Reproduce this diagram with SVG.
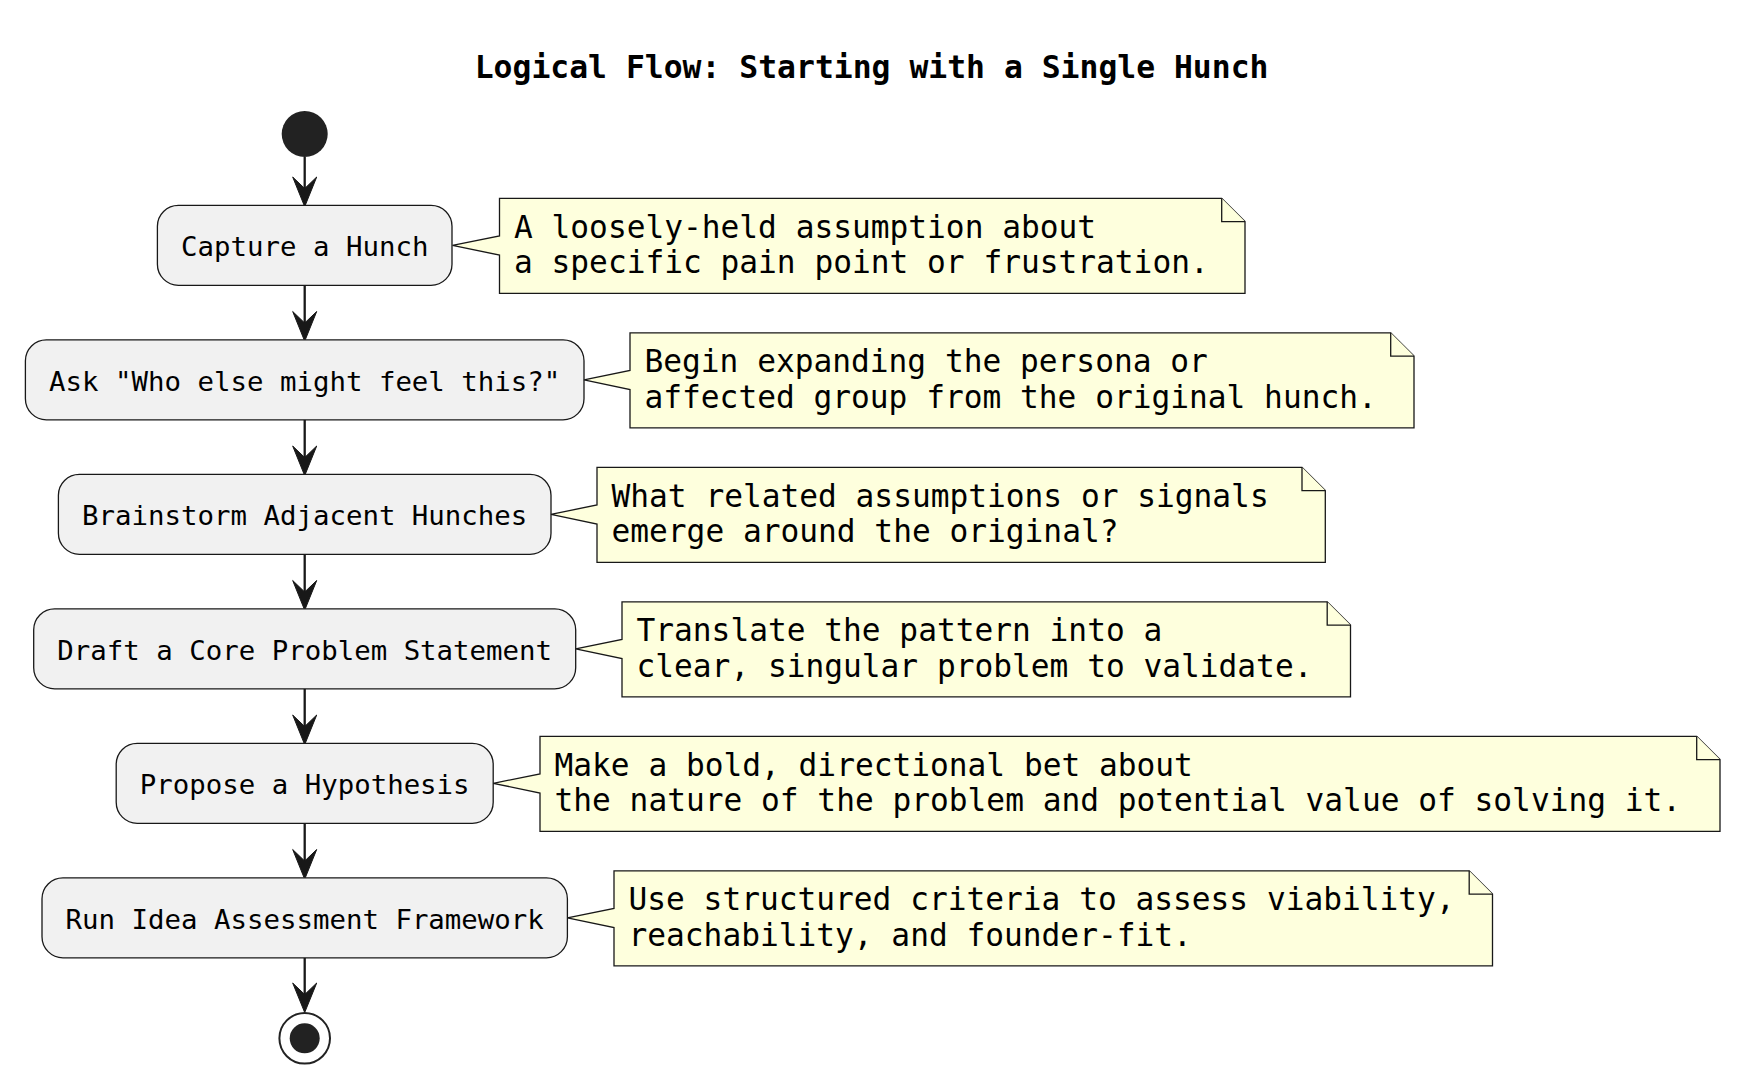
<svg xmlns="http://www.w3.org/2000/svg" width="1745" height="1087" viewBox="0 0 1745 1087">
<style>
  .bg { fill: #FFFFFF; }
  .act rect { fill: #F1F1F1; stroke: #181818; stroke-width: 1.3; }
  .act text { font-family: "DejaVu Sans Mono", "Liberation Mono", monospace; font-size: 27.4px; fill: #000000; text-anchor: middle; }
  .note path.body { fill: #FEFFDD; stroke: #181818; stroke-width: 1.3; }
  .note path.fold { fill: #FEFFDD; stroke: #181818; stroke-width: 1.3; }
  .note text { font-family: "DejaVu Sans Mono", "Liberation Mono", monospace; font-size: 31.2px; fill: #000000; }
  .title { font-family: "DejaVu Sans Mono", "Liberation Mono", monospace; font-size: 31.4px; font-weight: bold; fill: #000000; text-anchor: middle; }
  .edge line { stroke: #181818; stroke-width: 2.3; }
  .edge polygon { fill: #181818; stroke: #181818; stroke-width: 1; }
</style>
<rect class="bg" x="0" y="0" width="1745" height="1087"/>

<text class="title" x="871.6" y="78.3">Logical Flow: Starting with a Single Hunch</text>

<g id="start">
  <circle cx="304.7" cy="134" r="23" fill="#222222"/>
</g>

<g id="edges" class="edge">
  <line x1="304.7" y1="157" x2="304.7" y2="190"/>
  <polygon points="304.7,206.7 292.7,177 304.7,188.5 316.7,177"/>
  <line x1="304.7" y1="285.3" x2="304.7" y2="324"/>
  <polygon points="304.7,341.2 292.7,311.5 304.7,323 316.7,311.5"/>
  <line x1="304.7" y1="419.8" x2="304.7" y2="458.5"/>
  <polygon points="304.7,475.7 292.7,446 304.7,457.5 316.7,446"/>
  <line x1="304.7" y1="554.3" x2="304.7" y2="593"/>
  <polygon points="304.7,610.2 292.7,580.5 304.7,592 316.7,580.5"/>
  <line x1="304.7" y1="688.8" x2="304.7" y2="727.5"/>
  <polygon points="304.7,744.7 292.7,715 304.7,726.5 316.7,715"/>
  <line x1="304.7" y1="823.3" x2="304.7" y2="862"/>
  <polygon points="304.7,879.2 292.7,849.5 304.7,861 316.7,849.5"/>
  <line x1="304.7" y1="957.8" x2="304.7" y2="996"/>
  <polygon points="304.7,1012.5 292.7,983 304.7,994.5 316.7,983"/>
</g>

<g id="n1" class="act">
  <rect x="157.4" y="205.3" width="294.6" height="80" rx="21" ry="21"/>
  <text x="304.7" y="256.3">Capture a Hunch</text>
</g>
<g id="n2" class="act">
  <rect x="25.4" y="339.8" width="558.6" height="80" rx="21" ry="21"/>
  <text x="304.7" y="390.8">Ask "Who else might feel this?"</text>
</g>
<g id="n3" class="act">
  <rect x="58.4" y="474.3" width="492.6" height="80" rx="21" ry="21"/>
  <text x="304.7" y="525.3">Brainstorm Adjacent Hunches</text>
</g>
<g id="n4" class="act">
  <rect x="33.7" y="608.8" width="542" height="80" rx="21" ry="21"/>
  <text x="304.7" y="659.8">Draft a Core Problem Statement</text>
</g>
<g id="n5" class="act">
  <rect x="116.2" y="743.3" width="377" height="80" rx="21" ry="21"/>
  <text x="304.7" y="794.3">Propose a Hypothesis</text>
</g>
<g id="n6" class="act">
  <rect x="42" y="877.8" width="525.4" height="80" rx="21" ry="21"/>
  <text x="304.7" y="928.8">Run Idea Assessment Framework</text>
</g>

<g id="note1" class="note">
  <path class="body" d="M499.5,198.3 L1221.7,198.3 L1245,221.6 L1245,293.3 L499.5,293.3 L499.5,255 L452.5,245.3 L499.5,236 Z"/>
  <path class="fold" d="M1221.7,198.3 L1221.7,221.6 L1245,221.6"/>
  <text x="514" y="237.5">A loosely-held assumption about</text>
  <text x="514" y="273.2">a specific pain point or frustration.</text>
</g>
<g id="note2" class="note">
  <path class="body" d="M630,332.8 L1390.7,332.8 L1414,356.1 L1414,427.8 L630,427.8 L630,389.5 L584,379.8 L630,370.5 Z"/>
  <path class="fold" d="M1390.7,332.8 L1390.7,356.1 L1414,356.1"/>
  <text x="644.5" y="372">Begin expanding the persona or</text>
  <text x="644.5" y="407.7">affected group from the original hunch.</text>
</g>
<g id="note3" class="note">
  <path class="body" d="M597,467.3 L1302,467.3 L1325.3,490.6 L1325.3,562.3 L597,562.3 L597,524 L551,514.3 L597,505 Z"/>
  <path class="fold" d="M1302,467.3 L1302,490.6 L1325.3,490.6"/>
  <text x="611.5" y="506.5">What related assumptions or signals</text>
  <text x="611.5" y="542.2">emerge around the original?</text>
</g>
<g id="note4" class="note">
  <path class="body" d="M622,601.8 L1327.2,601.8 L1350.5,625.1 L1350.5,696.8 L622,696.8 L622,658.5 L575.7,648.8 L622,639.5 Z"/>
  <path class="fold" d="M1327.2,601.8 L1327.2,625.1 L1350.5,625.1"/>
  <text x="636.5" y="641">Translate the pattern into a</text>
  <text x="636.5" y="676.7">clear, singular problem to validate.</text>
</g>
<g id="note5" class="note">
  <path class="body" d="M540,736.3 L1696.7,736.3 L1720,759.6 L1720,831.3 L540,831.3 L540,793 L493.2,783.3 L540,774 Z"/>
  <path class="fold" d="M1696.7,736.3 L1696.7,759.6 L1720,759.6"/>
  <text x="554.5" y="775.5">Make a bold, directional bet about</text>
  <text x="554.5" y="811.2">the nature of the problem and potential value of solving it.</text>
</g>
<g id="note6" class="note">
  <path class="body" d="M614,870.8 L1469.2,870.8 L1492.5,894.1 L1492.5,965.8 L614,965.8 L614,927.5 L567.4,917.8 L614,908.5 Z"/>
  <path class="fold" d="M1469.2,870.8 L1469.2,894.1 L1492.5,894.1"/>
  <text x="628.5" y="910">Use structured criteria to assess viability,</text>
  <text x="628.5" y="945.7">reachability, and founder-fit.</text>
</g>

<g id="end">
  <circle cx="304.7" cy="1038.3" r="25.3" fill="#FFFFFF" stroke="#222222" stroke-width="2"/>
  <circle cx="304.7" cy="1038.3" r="15" fill="#222222"/>
</g>
</svg>
